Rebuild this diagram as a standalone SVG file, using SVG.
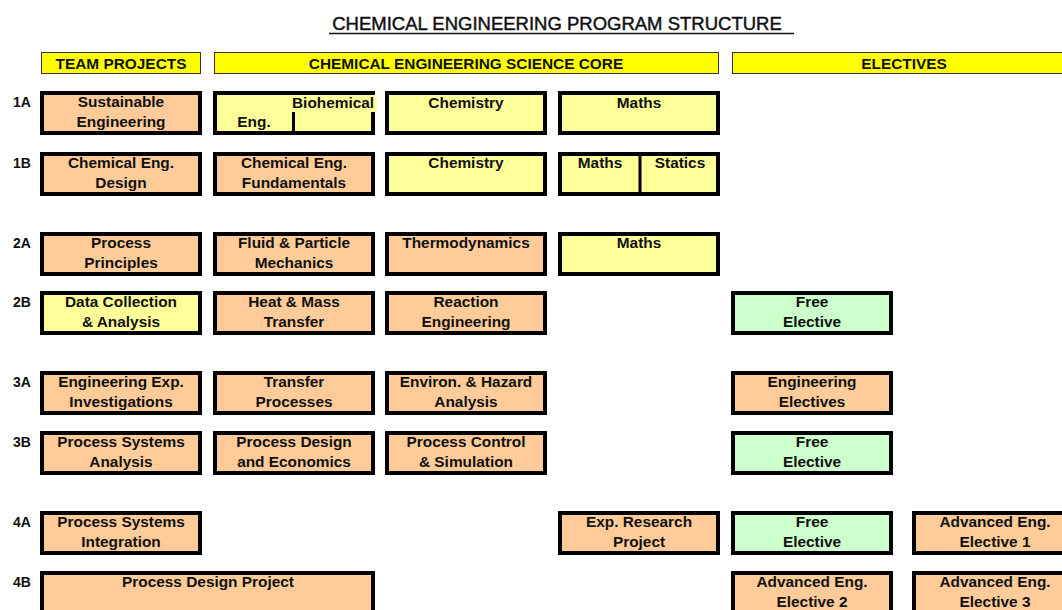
<svg xmlns="http://www.w3.org/2000/svg" width="1062" height="610" viewBox="0 0 1062 610">
<style>
text{font-family:"Liberation Sans",Arial,sans-serif;font-weight:bold;font-size:15.4px;fill:#111;text-anchor:middle}
.title{font-weight:normal;font-size:18.5px;stroke:#111;stroke-width:0.45}
.lab{font-size:14px;text-anchor:start}
.hdr{fill:#FFFF00;stroke:#333;stroke-width:1}
.b{stroke:#000;stroke-width:4}
.o{fill:#FFCC99}
.y{fill:#FFFF99}
.g{fill:#CCFFCC}
</style>
<rect width="1062" height="610" fill="#fff"/>
<g id="title">
<text class="title" x="557" y="30">CHEMICAL ENGINEERING PROGRAM STRUCTURE</text>
<line x1="329" y1="33.5" x2="794" y2="33.5" stroke="#111" stroke-width="1.3"/>
</g>
<g id="headers">
<g id="h-team"><rect class="hdr" x="41.5" y="52.5" width="159" height="21"/><text x="121" y="68.5">TEAM PROJECTS</text></g>
<g id="h-core"><rect class="hdr" x="214.5" y="52.5" width="504" height="21"/><text x="466" y="68.5">CHEMICAL ENGINEERING SCIENCE CORE</text></g>
<g id="h-elec"><rect class="hdr" x="732.5" y="52.5" width="340" height="21"/><text x="904" y="68.5">ELECTIVES</text></g>
</g>
<g id="row-labels">
<text class="lab" x="13" y="107">1A</text>
<text class="lab" x="13" y="168">1B</text>
<text class="lab" x="13" y="248">2A</text>
<text class="lab" x="13" y="307">2B</text>
<text class="lab" x="13" y="387">3A</text>
<text class="lab" x="13" y="447">3B</text>
<text class="lab" x="13" y="527">4A</text>
<text class="lab" x="13" y="587">4B</text>
</g>
<!-- Row 1A -->
<g id="n1a-team"><rect class="b o" x="42" y="93" width="158" height="40"/><text x="121" y="107.3">Sustainable</text><text x="121" y="126.7">Engineering</text></g>
<g id="n1a-bio">
<rect class="b y" x="215" y="93" width="158" height="40"/>
<rect x="291" y="95" width="86" height="17" fill="#FFFF99"/>
<line x1="293.5" y1="112" x2="293.5" y2="132" stroke="#000" stroke-width="3"/>
<text x="292" y="107.6" style="text-anchor:start">Biohemical</text>
<text x="254" y="127">Eng.</text>
</g>
<g id="n1a-chem"><rect class="b y" x="387" y="93" width="158" height="40"/><text x="466" y="107.6">Chemistry</text></g>
<g id="n1a-maths"><rect class="b y" x="560" y="93" width="158" height="40"/><text x="639" y="107.6">Maths</text></g>
<!-- Row 1B -->
<g id="n1b-team"><rect class="b o" x="42" y="154" width="158" height="40"/><text x="121" y="168.3">Chemical Eng.</text><text x="121" y="187.7">Design</text></g>
<g id="n1b-fund"><rect class="b o" x="215" y="154" width="158" height="40"/><text x="294" y="168.3">Chemical Eng.</text><text x="294" y="187.7">Fundamentals</text></g>
<g id="n1b-chem"><rect class="b y" x="387" y="154" width="158" height="40"/><text x="466" y="168.3">Chemistry</text></g>
<g id="n1b-maths"><rect class="b y" x="560" y="154" width="158" height="40"/><line x1="640" y1="154" x2="640" y2="194" stroke="#000" stroke-width="3"/><text x="600" y="168.3">Maths</text><text x="680" y="168.3">Statics</text></g>
<!-- Row 2A -->
<g id="n2a-team"><rect class="b o" x="42" y="234" width="158" height="40"/><text x="121" y="248.3">Process</text><text x="121" y="267.7">Principles</text></g>
<g id="n2a-fluid"><rect class="b o" x="215" y="234" width="158" height="40"/><text x="294" y="248.3">Fluid &amp; Particle</text><text x="294" y="267.7">Mechanics</text></g>
<g id="n2a-thermo"><rect class="b o" x="387" y="234" width="158" height="40"/><text x="466" y="248.3">Thermodynamics</text></g>
<g id="n2a-maths"><rect class="b y" x="560" y="234" width="158" height="40"/><text x="639" y="248.3">Maths</text></g>
<!-- Row 2B -->
<g id="n2b-team"><rect class="b y" x="42" y="293" width="158" height="40"/><text x="121" y="307.3">Data Collection</text><text x="121" y="326.7">&amp; Analysis</text></g>
<g id="n2b-heat"><rect class="b o" x="215" y="293" width="158" height="40"/><text x="294" y="307.3">Heat &amp; Mass</text><text x="294" y="326.7">Transfer</text></g>
<g id="n2b-react"><rect class="b o" x="387" y="293" width="158" height="40"/><text x="466" y="307.3">Reaction</text><text x="466" y="326.7">Engineering</text></g>
<g id="n2b-free"><rect class="b g" x="733" y="293" width="158" height="40"/><text x="812" y="307.3">Free</text><text x="812" y="326.7">Elective</text></g>
<!-- Row 3A -->
<g id="n3a-team"><rect class="b o" x="42" y="373" width="158" height="40"/><text x="121" y="387.3">Engineering Exp.</text><text x="121" y="406.7">Investigations</text></g>
<g id="n3a-transfer"><rect class="b o" x="215" y="373" width="158" height="40"/><text x="294" y="387.3">Transfer</text><text x="294" y="406.7">Processes</text></g>
<g id="n3a-env"><rect class="b o" x="387" y="373" width="158" height="40"/><text x="466" y="387.3">Environ. &amp; Hazard</text><text x="466" y="406.7">Analysis</text></g>
<g id="n3a-eng"><rect class="b o" x="733" y="373" width="158" height="40"/><text x="812" y="387.3">Engineering</text><text x="812" y="406.7">Electives</text></g>
<!-- Row 3B -->
<g id="n3b-team"><rect class="b o" x="42" y="433" width="158" height="40"/><text x="121" y="447.3">Process Systems</text><text x="121" y="466.7">Analysis</text></g>
<g id="n3b-design"><rect class="b o" x="215" y="433" width="158" height="40"/><text x="294" y="447.3">Process Design</text><text x="294" y="466.7">and Economics</text></g>
<g id="n3b-control"><rect class="b o" x="387" y="433" width="158" height="40"/><text x="466" y="447.3">Process Control</text><text x="466" y="466.7">&amp; Simulation</text></g>
<g id="n3b-free"><rect class="b g" x="733" y="433" width="158" height="40"/><text x="812" y="447.3">Free</text><text x="812" y="466.7">Elective</text></g>
<!-- Row 4A -->
<g id="n4a-team"><rect class="b o" x="42" y="513" width="158" height="40"/><text x="121" y="527.3">Process Systems</text><text x="121" y="546.7">Integration</text></g>
<g id="n4a-research"><rect class="b o" x="560" y="513" width="158" height="40"/><text x="639" y="527.3">Exp. Research</text><text x="639" y="546.7">Project</text></g>
<g id="n4a-free"><rect class="b g" x="733" y="513" width="158" height="40"/><text x="812" y="527.3">Free</text><text x="812" y="546.7">Elective</text></g>
<g id="n4a-adv1"><rect class="b o" x="914" y="513" width="162" height="40"/><text x="995" y="527.3">Advanced Eng.</text><text x="995" y="546.7">Elective 1</text></g>
<!-- Row 4B -->
<g id="n4b-team"><rect class="b o" x="42" y="573" width="331" height="40"/><text x="208" y="587.3">Process Design Project</text></g>
<g id="n4b-adv2"><rect class="b o" x="733" y="573" width="158" height="40"/><text x="812" y="587.3">Advanced Eng.</text><text x="812" y="606.7">Elective 2</text></g>
<g id="n4b-adv3"><rect class="b o" x="914" y="573" width="162" height="40"/><text x="995" y="587.3">Advanced Eng.</text><text x="995" y="606.7">Elective 3</text></g>
<g id="connectors"></g>
</svg>
